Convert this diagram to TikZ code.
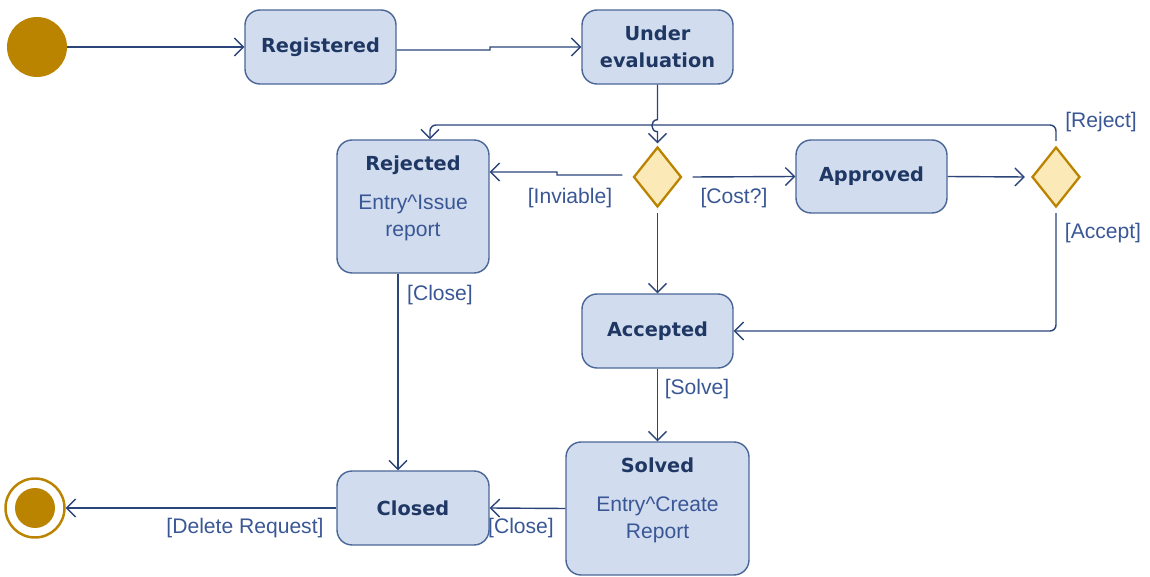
\documentclass[tikz,border=0pt]{standalone}
\usepackage{fontspec}
\setmainfont{Liberation Sans}
\newfontfamily\statefont{DejaVu Sans}
\usepackage{tikz}
\usetikzlibrary{
    shapes.geometric,
    arrows.meta,
    positioning,
    calc
}
\definecolor{umlfill}{RGB}{209,220,239}
\definecolor{umledge}{RGB}{74,102,150}
\definecolor{umlline}{RGB}{43,68,121}
\definecolor{umltext}{RGB}{31,55,99}
\definecolor{umllabel}{RGB}{58,87,149}
\definecolor{umlgold}{RGB}{187,132,0}
\definecolor{umlchoice}{RGB}{251,233,183}
\newcommand{\bodytext}{\normalfont\mdseries\fontsize{12}{14.7}\selectfont\color{umllabel}}

\tikzset{
    state/.style={rectangle, rounded corners=0.3cm, draw=umledge, line width=0.8pt,
        fill=umlfill, minimum width=3.02cm, minimum height=1.48cm, align=center,
        text=umltext, font=\statefont\bfseries\fontsize{11}{15.3}\selectfont},
    choice/.style={diamond, draw=umlgold, line width=1.3pt, fill=umlchoice,
        minimum width=0.96cm, minimum height=1.2cm, inner sep=0pt},
    flow/.style={draw=umlline, line width=0.8pt, -{Straight Barb[length=1.8mm,width=3.6mm]}},
    lbl/.style={font=\fontsize{12}{14}\selectfont, text=umllabel, inner sep=0pt}
}

\begin{document}
\begin{tikzpicture}[x=0.02cm, y=-0.02cm]
    \useasboundingbox (0,0) rectangle (1150,577);

    % start and end
    \node[circle, fill=umlgold, minimum size=1.2cm, inner sep=0pt] (init) at (37,47) {};
    \node[circle, draw=umlgold, line width=1.4pt, fill=white, minimum size=1.18cm, inner sep=0pt,
        path picture={\fill[umlgold] (path picture bounding box.center) circle (0.4cm);}] (fin) at (35,508) {};

    % states
    \node[state] (reg) at (320.5,47) {\raisebox{-1pt}{Registered}};
    \node[state] (ue) at (657.5,47) {Under\\evaluation};
    \node[state, minimum width=3.04cm, minimum height=2.66cm] (rej) at (413,206.5)
        {Rejected\\[7pt]\bodytext Entry\textasciicircum Issue\\\bodytext report\\[-8pt]\strut};
    \node[state, minimum height=1.46cm] (appr) at (871.5,176.5) {\raisebox{-1pt}{Approved}};
    \node[state] (acc) at (657.5,331) {\raisebox{-1pt}{Accepted}};
    \node[state, minimum width=3.66cm, minimum height=2.66cm] (solv) at (657.5,508.5)
        {Solved\\[7pt]\bodytext Entry\textasciicircum Create\\\bodytext Report\\[-8pt]\strut};
    \node[state, minimum width=3.04cm] (clo) at (413,508) {Closed};

    % choices
    \node[choice] (d1) at (657.5,177) {};
    \node[choice] (d2) at (1056,177) {};

    % helper points
    \coordinate (rjk) at (430,125);
    \coordinate (rjx) at (398,273);

    % transitions
    \draw[flow] (init.east) -- (reg.west);
    \draw[flow] ([yshift=-0.06cm]reg.east) -- (490,50) -- (490,47) -- (ue.west);
    \draw[flow] (ue.south) -- ++(0,35) to[out=180,in=180,looseness=1.6] ++(0,12) -- ([yshift=0.05cm]d1.north);
    \draw[flow] ([xshift=-0.2cm,yshift=0.04cm]d1.west) -- (557,175) -- (557,172) -- (rej.east |- 557,172);
    \draw[flow] ([xshift=0.2cm]d1.east) -- (appr.west);
    \draw[flow] (appr.east) -- ([xshift=-0.12cm]d2.west);
    \draw[flow, rounded corners=0.12cm] ([yshift=0.1cm]d2.north) -- (d2.north |- rjk) -- (rjk) -- (rjk |- rej.north);
    \draw[flow, rounded corners=0.12cm] ([yshift=-0.1cm]d2.south) |- (acc.east);
    \draw[flow] ([yshift=-0.1cm]d1.south) -- (acc.north);
    \draw[flow] (acc.south) -- (solv.north);
    \draw[flow] (solv.west) -- (clo.east);
    \draw[flow] (rej.south -| rjx) -- (clo.north -| rjx);
    \draw[flow] (clo.west) -- (fin.east);

    % guards
    \node[lbl] (gInviable) at (570,198) {[Inviable]};
    \node[lbl] (gCost) at (734,198) {[Cost?]};
    \node[lbl] (gReject) at (1101,122) {[Reject]};
    \node[lbl] (gAccept) at (1103,233) {[Accept]};
    \node[lbl] (gCloseA) at (440,295) {[Close]};
    \node[lbl] (gSolve) at (697,389) {[Solve]};
    \node[lbl] (gCloseB) at (521,528) {[Close]};
    \node[lbl] (gDelete) at (245,528) {[Delete Request]};
\end{tikzpicture}
\end{document}
